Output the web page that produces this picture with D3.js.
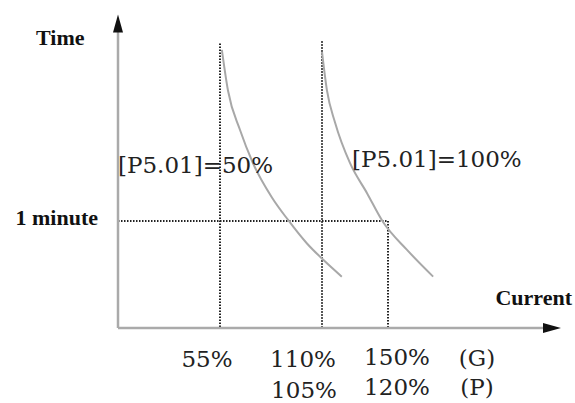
<!DOCTYPE html>
<html>
<head>
<meta charset="utf-8">
<script src="https://cdn.jsdelivr.net/npm/d3@7"></script>
<style>
body{margin:0;background:#fff;}
.lbl{font-family:"Liberation Serif","Times New Roman",serif;font-weight:bold;font-size:22px;fill:#111;}
.pct{font-family:"DejaVu Serif",serif;font-size:23px;fill:#222;}
</style>
</head>
<body>
<svg width="575" height="403"></svg>
<script>
// current in %, time in minutes
var curve50  = [[56,2.60],[59.3,2.22],[65.8,1.85],[72.8,1.54],[83,1.22],[91.7,1.01],[101.9,0.79],[110.6,0.64],[122,0.48]];
var curve100 = [[110,2.58],[113,2.22],[117.9,1.92],[127,1.54],[137.3,1.26],[147,0.99],[159.9,0.73],[173.5,0.48]];
var curveNames = ["[P5.01]=50%","[P5.01]=100%"];
var guideCurrents = [55,110,150];
var guideTops = [2.66,2.68,1];
var oneMinute = 1;
var rowG = ["55%","110%","150%","(G)"];
var rowP = ["","105%","120%","(P)"];

var svg = d3.select("svg");

var xScale = d3.scaleLinear()
               .domain([0,55,110,150,240])
               .range([118,220,322,388,561]);
var yScale = d3.scaleLinear()
               .domain([0,1])
               .range([328,221]);

var lineMaker = d3.line()
                  .x(function(d){return xScale(d[0]);})
                  .y(function(d){return yScale(d[1]);})
                  .curve(d3.curveMonotoneX);

// dotted guides
guideCurrents.forEach(function(c,i){
  svg.append("line")
     .attr("x1",xScale(c)).attr("x2",xScale(c))
     .attr("y1",yScale(guideTops[i])).attr("y2",yScale(0))
     .attr("stroke","#222").attr("stroke-width",2)
     .attr("stroke-dasharray","1.5,1.5");
});
svg.append("line")
   .attr("x1",xScale(0)).attr("x2",xScale(150))
   .attr("y1",yScale(oneMinute)).attr("y2",yScale(oneMinute))
   .attr("stroke","#222").attr("stroke-width",2)
   .attr("stroke-dasharray","1.5,1.5");

// axes
var x0 = xScale(0), y0 = yScale(0);
var yTop = yScale(2.93), xEnd = xScale(240);
svg.append("line").attr("x1",x0).attr("x2",x0).attr("y1",y0).attr("y2",yTop+14)
   .attr("stroke","#aaa").attr("stroke-width",2.5);
svg.append("line").attr("x1",x0).attr("x2",xEnd-14).attr("y1",y0).attr("y2",y0)
   .attr("stroke","#aaa").attr("stroke-width",2.5);
svg.append("path")
   .attr("d","M"+x0+","+yTop+"L"+(x0+5)+","+(yTop+18)+"L"+(x0-5)+","+(yTop+18)+"Z")
   .attr("fill","#111");
svg.append("path")
   .attr("d","M"+xEnd+","+y0+"L"+(xEnd-18)+","+(y0-5)+"L"+(xEnd-18)+","+(y0+5)+"Z")
   .attr("fill","#111");

// curves
[curve50,curve100].forEach(function(c){
  svg.append("path")
     .attr("d",lineMaker(c))
     .attr("fill","none")
     .attr("stroke","#a8a8a8")
     .attr("stroke-width",2);
});

// axis titles
svg.append("text").attr("class","lbl").attr("x",36).attr("y",45).text("Time");
svg.append("text").attr("class","lbl").attr("x",98).attr("y",225)
   .attr("text-anchor","end").text("1 minute");
svg.append("text").attr("class","lbl").attr("x",572).attr("y",305)
   .attr("text-anchor","end").text("Current");

// curve labels
svg.append("text").attr("class","pct").attr("x",x0).attr("y",173).text(curveNames[0]);
svg.append("text").attr("class","pct").attr("x",352).attr("y",167).text(curveNames[1]);

// bottom labels
var gx = [55,110,150,150];
var gdx = [-13,-19,9,89];
var gy = [367,367,365,366];
var pdx = [0,-18,9,89];
var py = [0,398,395,395];
rowG.forEach(function(t,i){
  svg.append("text").attr("class","pct").attr("text-anchor","middle")
     .attr("x",xScale(gx[i])+gdx[i]).attr("y",gy[i]).text(t);
});
rowP.forEach(function(t,i){
  if(!t) return;
  svg.append("text").attr("class","pct").attr("text-anchor","middle")
     .attr("x",xScale(gx[i])+pdx[i]).attr("y",py[i]).text(t);
});
</script>
</body>
</html>
